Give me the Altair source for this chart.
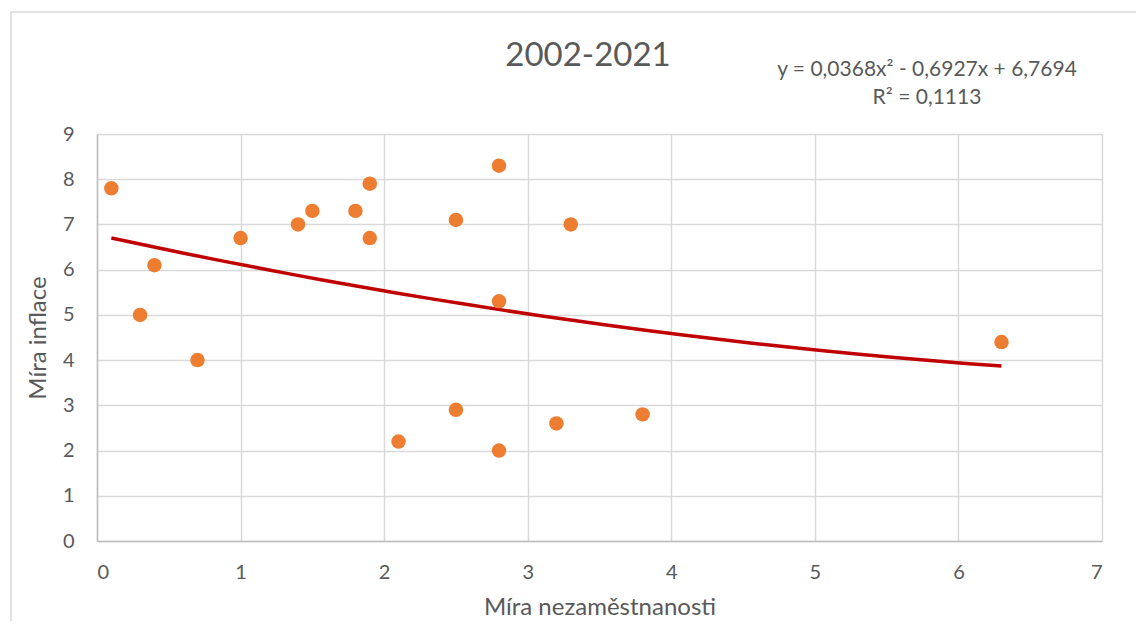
import altair as alt
import pandas as pd

# Data
unemployment = [0.1, 0.3, 0.4, 0.7, 1.0, 1.4, 1.5, 1.8, 1.9, 1.9,
                2.1, 2.5, 2.5, 2.8, 2.8, 2.8, 3.2, 3.3, 3.8, 6.3]
inflation = [7.8, 5.0, 6.1, 4.0, 6.7, 7.0, 7.3, 7.3, 7.9, 6.7,
             2.2, 7.1, 2.9, 8.3, 5.3, 2.0, 2.6, 7.0, 2.8, 4.4]
x_ticks = [0, 1, 2, 3, 4, 5, 6, 7]
y_ticks = [0, 1, 2, 3, 4, 5, 6, 7, 8, 9]
chart_title = "2002-2021"
equation = ["y = 0,0368x² - 0,6927x + 6,7694", "R² = 0,1113"]

df = pd.DataFrame({"x": unemployment, "y": inflation})

FONT = "Lato"
GREY = "#595959"
W, H = 1005, 407

x_enc = alt.X("x:Q", title="Míra nezaměstnanosti",
              scale=alt.Scale(domain=[0, 7], nice=False),
              axis=alt.Axis(values=x_ticks, format="d", titlePadding=13))
y_enc = alt.Y("y:Q", title="Míra inflace",
              scale=alt.Scale(domain=[0, 9], nice=False),
              axis=alt.Axis(values=y_ticks, format="d", titlePadding=12))

base = alt.Chart(df)

points = base.mark_circle(size=210, color="#ED7D31", opacity=1).encode(x=x_enc, y=y_enc)

trend = base.transform_regression(
    "x", "y", method="poly", order=2, extent=[min(unemployment), max(unemployment)]
).mark_line(color="#C00000", strokeWidth=3.5).encode(x="x:Q", y="y:Q")

title_df = pd.DataFrame({"t": [chart_title]})
title = alt.Chart(title_df).mark_text(
    font=FONT, fontSize=33, color=GREY, baseline="middle", align="center"
).encode(text="t:N", x=alt.value(491), y=alt.value(-78))

eq_df = pd.DataFrame({"t": equation, "dy": [-64, -36]})
eq = alt.Chart(eq_df).mark_text(
    font=FONT, fontSize=21, color=GREY, baseline="middle", align="center", x=830
).encode(text="t:N", y=alt.Y("dy:Q", scale=None))

frame = alt.Chart(title_df).mark_rect(
    fill=None, stroke="#D9D9D9", strokeWidth=1.5
).encode(x=alt.value(-86), x2=alt.value(1060), y=alt.value(-122), y2=alt.value(540))

chart = alt.layer(frame, trend, points, title, eq).properties(
    width=W, height=H,
    autosize=alt.AutoSizeParams(type="none"),
    padding={"left": 89, "top": 126, "right": 34, "bottom": 80},
).configure_view(stroke=None).configure_axis(
    labelFont=FONT, titleFont=FONT, labelColor=GREY, titleColor=GREY,
    labelFontSize=20, titleFontSize=24, titleFontWeight="normal",
    gridColor="#D9D9D9", gridWidth=1.5, domainColor="#BFBFBF", domainWidth=1.5,
    ticks=False,
).configure_axisX(labelPadding=21, domain=True).configure_axisY(labelPadding=23, domain=True)

chart.save("out.html", embed_options={"renderer": "svg", "actions": False})
